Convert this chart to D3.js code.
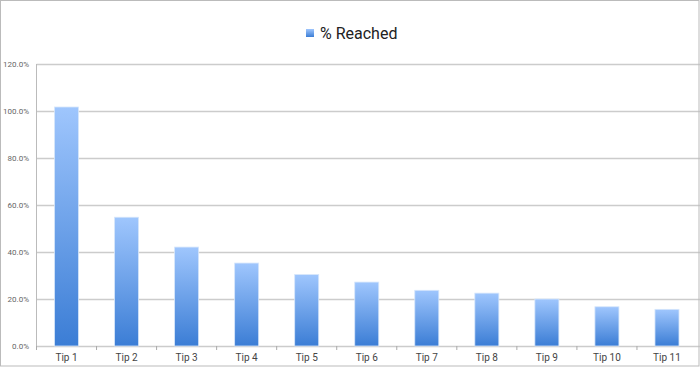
<!DOCTYPE html>
<html>
<head>
<meta charset="utf-8">
<script src="https://cdn.jsdelivr.net/npm/d3@7"></script>
<style>
  html, body { margin: 0; padding: 0; background: #fff; }
  svg { display: block; font-family: Roboto, "Noto Sans", sans-serif; }
</style>
</head>
<body>
<div id="chart"></div>
<script>
const categories = ['Tip 1', 'Tip 2', 'Tip 3', 'Tip 4', 'Tip 5', 'Tip 6', 'Tip 7', 'Tip 8', 'Tip 9', 'Tip 10', 'Tip 11'];
const reached = [101.7, 54.8, 42.1, 35.3, 30.4, 27.2, 23.7, 22.5, 20.0, 16.7, 15.6];
const yTicks = [0, 20, 40, 60, 80, 100, 120];
const seriesName = '% Reached';

const width = 700, height = 367;
const margin = { top: 64, right: 3, bottom: 21, left: 36.5 };

const svg = d3.select('#chart')
  .append('svg')
  .attr('width', width)
  .attr('height', height);

// vertical gradient for the bars, light on top
const grad = svg.append('defs').append('linearGradient')
  .attr('id', 'barGrad')
  .attr('x1', 0).attr('y1', 0).attr('x2', 0).attr('y2', 1);
grad.append('stop').attr('offset', '0%').attr('stop-color', '#9fc6fd');
grad.append('stop').attr('offset', '100%').attr('stop-color', '#3b7dd5');

const x = d3.scaleBand()
  .domain(categories)
  .range([margin.left, width - margin.right])
  .paddingInner(0.6)
  .paddingOuter(0.3);

const y = d3.scaleLinear()
  .domain([0, 120])
  .range([height - margin.bottom, margin.top]);

// gridlines
svg.append('g')
  .selectAll('line')
  .data(yTicks)
  .join('line')
  .attr('x1', margin.left)
  .attr('x2', width)
  .attr('y1', d => Math.round(y(d)) + 0.5)
  .attr('y2', d => Math.round(y(d)) + 0.5)
  .attr('stroke', '#cccccc')
  .attr('stroke-width', 1.5);

// y labels
svg.append('g')
  .selectAll('text')
  .data(yTicks)
  .join('text')
  .attr('x', 29)
  .attr('y', d => y(d) + 3)
  .attr('text-anchor', 'end')
  .attr('font-size', 8)
  .attr('fill', '#666')
  .text(d => d.toFixed(1) + '%');

// y axis line
svg.append('line')
  .attr('x1', margin.left).attr('x2', margin.left)
  .attr('y1', y(120)).attr('y2', y(0) + 3)
  .attr('stroke', '#bbb');

// x ticks at band boundaries
const step = x.step();
const start = x.range()[0];
svg.append('g')
  .selectAll('line')
  .data(categories.map((d, i) => i))
  .join('line')
  .attr('x1', i => start + i * step)
  .attr('x2', i => start + i * step)
  .attr('y1', y(0))
  .attr('y2', y(0) + 4)
  .attr('stroke', '#aaa');

// bars
svg.append('g')
  .selectAll('rect')
  .data(reached)
  .join('rect')
  .attr('x', (d, i) => x(categories[i]))
  .attr('y', d => y(d))
  .attr('width', x.bandwidth())
  .attr('height', d => y(0) - y(d))
  .attr('fill', 'url(#barGrad)')
  .attr('stroke', '#d6e6fb')
  .attr('stroke-width', 0.8);

// x labels
svg.append('g')
  .selectAll('text')
  .data(categories)
  .join('text')
  .attr('x', d => x(d) + x.bandwidth() / 2)
  .attr('y', height - 6)
  .attr('text-anchor', 'middle')
  .attr('font-size', 10)
  .attr('fill', '#444')
  .text(d => d);

// legend
const legend = svg.append('g');
legend.append('rect')
  .attr('x', 306).attr('y', 29)
  .attr('width', 8).attr('height', 8)
  .attr('fill', 'url(#barGrad)');
legend.append('text')
  .attr('x', 320).attr('y', 39)
  .attr('font-size', 16)
  .attr('fill', '#222')
  .text(seriesName);

// outer frame
svg.append('rect')
  .attr('x', 0.5).attr('y', 0.5)
  .attr('width', width - 1.5).attr('height', height - 1.5)
  .attr('fill', 'none')
  .attr('stroke', '#bbb');
</script>
</body>
</html>
